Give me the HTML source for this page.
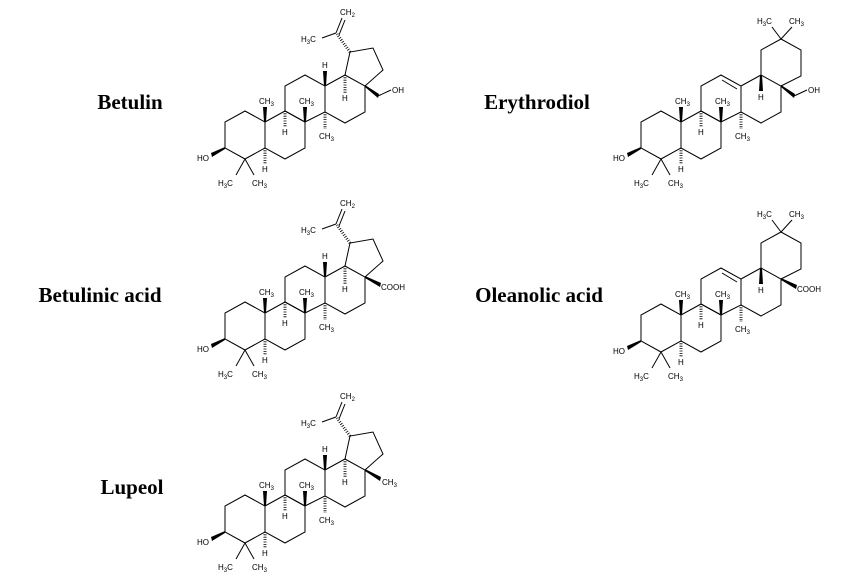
<!DOCTYPE html>
<html><head><meta charset="utf-8"><style>
html,body{margin:0;padding:0;background:#fff;}
svg{display:block;}
.n{font-family:"Liberation Serif",serif;font-weight:bold;font-size:21px;fill:#000;}
.l{font-family:"Liberation Sans",sans-serif;font-size:8px;fill:#000;}
.s{font-size:6px;}
.b{fill:none;stroke:#000;stroke-width:1;}
.h{stroke:#000;stroke-width:3;stroke-dasharray:0.8 1.6;}
.w{fill:#000;}
</style></head><body>
<svg width="865" height="579" viewBox="0 0 865 579" xmlns="http://www.w3.org/2000/svg">
<text class="n" x="130" y="109" text-anchor="middle">Betulin</text>
<text class="n" x="537" y="109" text-anchor="middle">Erythrodiol</text>
<text class="n" x="100" y="302" text-anchor="middle">Betulinic acid</text>
<text class="n" x="539" y="302" text-anchor="middle">Oleanolic acid</text>
<text class="n" x="132" y="494" text-anchor="middle">Lupeol</text>

<!-- Lupane: Betulin -->
<g transform="translate(0,0)">
<polygon class="b" points="245,111 265,122 265,148 245,159 225,148 225,122"/>
<polygon class="b" points="265,122 285,111 305,122 305,148 285,159 265,148"/>
<polygon class="b" points="285,111 285,86 305,75 325,86 325,112 305,122"/>
<polygon class="b" points="325,86 345,75 365,86 365,112 345,123 325,112"/>
<polyline class="b" points="345,75 350,52 373,48 383,70 365,86"/>
<line class="h" x1="350" y1="52" x2="337" y2="34"/>
<line class="b" x1="336" y1="33" x2="322" y2="38"/>
<line class="b" x1="336" y1="33" x2="342" y2="18"/>
<line class="b" x1="339" y1="35" x2="345" y2="20"/>
<text class="l" x="340" y="15">CH<tspan class="s" dy="2">2</tspan></text>
<text class="l" x="301" y="42">H<tspan class="s" dy="2">3</tspan><tspan dy="-2">C</tspan></text>
<polygon class="w" points="324,86 326,86 327,71 323,71"/>
<text class="l" x="322" y="68">H</text>
<line class="h" x1="345" y1="75" x2="345" y2="93"/>
<text class="l" x="342" y="101">H</text>
<polygon class="w" points="264,122 266,122 267,107 263,107"/>
<text class="l" x="259" y="104">CH<tspan class="s" dy="2">3</tspan></text>
<polygon class="w" points="304,122 306,122 307,107 303,107"/>
<text class="l" x="299" y="104">CH<tspan class="s" dy="2">3</tspan></text>
<line class="h" x1="285" y1="111" x2="285" y2="127"/>
<text class="l" x="282" y="135">H</text>
<line class="h" x1="325" y1="112" x2="325" y2="129"/>
<text class="l" x="319" y="139">CH<tspan class="s" dy="2">3</tspan></text>
<line class="h" x1="265" y1="148" x2="265" y2="164"/>
<text class="l" x="262" y="172">H</text>
<line class="b" x1="245" y1="159" x2="236" y2="175"/>
<line class="b" x1="245" y1="159" x2="254" y2="175"/>
<text class="l" x="218" y="186">H<tspan class="s" dy="2">3</tspan><tspan dy="-2">C</tspan></text>
<text class="l" x="252" y="186">CH<tspan class="s" dy="2">3</tspan></text>
<polygon class="w" points="225,147 225,149 212,157 211,153"/>
<text class="l" x="197" y="161">HO</text>
<polygon class="w" points="365,85 365,87 378,98 379,94"/>
<line class="b" x1="378" y1="96" x2="391" y2="90"/>
<text class="l" x="392" y="93">OH</text>
</g>

<!-- Betulinic acid -->
<g transform="translate(0,191)">
<polygon class="b" points="245,111 265,122 265,148 245,159 225,148 225,122"/>
<polygon class="b" points="265,122 285,111 305,122 305,148 285,159 265,148"/>
<polygon class="b" points="285,111 285,86 305,75 325,86 325,112 305,122"/>
<polygon class="b" points="325,86 345,75 365,86 365,112 345,123 325,112"/>
<polyline class="b" points="345,75 350,52 373,48 383,70 365,86"/>
<line class="h" x1="350" y1="52" x2="337" y2="34"/>
<line class="b" x1="336" y1="33" x2="322" y2="38"/>
<line class="b" x1="336" y1="33" x2="342" y2="18"/>
<line class="b" x1="339" y1="35" x2="345" y2="20"/>
<text class="l" x="340" y="15">CH<tspan class="s" dy="2">2</tspan></text>
<text class="l" x="301" y="42">H<tspan class="s" dy="2">3</tspan><tspan dy="-2">C</tspan></text>
<polygon class="w" points="324,86 326,86 327,71 323,71"/>
<text class="l" x="322" y="68">H</text>
<line class="h" x1="345" y1="75" x2="345" y2="93"/>
<text class="l" x="342" y="101">H</text>
<polygon class="w" points="264,122 266,122 267,107 263,107"/>
<text class="l" x="259" y="104">CH<tspan class="s" dy="2">3</tspan></text>
<polygon class="w" points="304,122 306,122 307,107 303,107"/>
<text class="l" x="299" y="104">CH<tspan class="s" dy="2">3</tspan></text>
<line class="h" x1="285" y1="111" x2="285" y2="127"/>
<text class="l" x="282" y="135">H</text>
<line class="h" x1="325" y1="112" x2="325" y2="129"/>
<text class="l" x="319" y="139">CH<tspan class="s" dy="2">3</tspan></text>
<line class="h" x1="265" y1="148" x2="265" y2="164"/>
<text class="l" x="262" y="172">H</text>
<line class="b" x1="245" y1="159" x2="236" y2="175"/>
<line class="b" x1="245" y1="159" x2="254" y2="175"/>
<text class="l" x="218" y="186">H<tspan class="s" dy="2">3</tspan><tspan dy="-2">C</tspan></text>
<text class="l" x="252" y="186">CH<tspan class="s" dy="2">3</tspan></text>
<polygon class="w" points="225,147 225,149 212,157 211,153"/>
<text class="l" x="197" y="161">HO</text>
<polygon class="w" points="365,85 365,87 380,96 381,92"/>
<text class="l" x="381" y="99">COOH</text>
</g>

<!-- Lupeol -->
<g transform="translate(0,384)">
<polygon class="b" points="245,111 265,122 265,148 245,159 225,148 225,122"/>
<polygon class="b" points="265,122 285,111 305,122 305,148 285,159 265,148"/>
<polygon class="b" points="285,111 285,86 305,75 325,86 325,112 305,122"/>
<polygon class="b" points="325,86 345,75 365,86 365,112 345,123 325,112"/>
<polyline class="b" points="345,75 350,52 373,48 383,70 365,86"/>
<line class="h" x1="350" y1="52" x2="337" y2="34"/>
<line class="b" x1="336" y1="33" x2="322" y2="38"/>
<line class="b" x1="336" y1="33" x2="342" y2="18"/>
<line class="b" x1="339" y1="35" x2="345" y2="20"/>
<text class="l" x="340" y="15">CH<tspan class="s" dy="2">2</tspan></text>
<text class="l" x="301" y="42">H<tspan class="s" dy="2">3</tspan><tspan dy="-2">C</tspan></text>
<polygon class="w" points="324,86 326,86 327,71 323,71"/>
<text class="l" x="322" y="68">H</text>
<line class="h" x1="345" y1="75" x2="345" y2="93"/>
<text class="l" x="342" y="101">H</text>
<polygon class="w" points="264,122 266,122 267,107 263,107"/>
<text class="l" x="259" y="104">CH<tspan class="s" dy="2">3</tspan></text>
<polygon class="w" points="304,122 306,122 307,107 303,107"/>
<text class="l" x="299" y="104">CH<tspan class="s" dy="2">3</tspan></text>
<line class="h" x1="285" y1="111" x2="285" y2="127"/>
<text class="l" x="282" y="135">H</text>
<line class="h" x1="325" y1="112" x2="325" y2="129"/>
<text class="l" x="319" y="139">CH<tspan class="s" dy="2">3</tspan></text>
<line class="h" x1="265" y1="148" x2="265" y2="164"/>
<text class="l" x="262" y="172">H</text>
<line class="b" x1="245" y1="159" x2="236" y2="175"/>
<line class="b" x1="245" y1="159" x2="254" y2="175"/>
<text class="l" x="218" y="186">H<tspan class="s" dy="2">3</tspan><tspan dy="-2">C</tspan></text>
<text class="l" x="252" y="186">CH<tspan class="s" dy="2">3</tspan></text>
<polygon class="w" points="225,147 225,149 212,157 211,153"/>
<text class="l" x="197" y="161">HO</text>
<polygon class="w" points="365,85 365,87 380,97 381,93"/>
<text class="l" x="382" y="101">CH<tspan class="s" dy="2">3</tspan></text>
</g>

<!-- Oleanane: Erythrodiol -->
<g transform="translate(0,0)">
<polygon class="b" points="661,111 681,122 681,148 661,159 641,148 641,122"/>
<polygon class="b" points="681,122 701,111 721,122 721,148 701,159 681,148"/>
<polygon class="b" points="701,111 701,86 721,75 741,86 741,112 721,122"/>
<line class="b" x1="722" y1="80" x2="737" y2="89"/>
<polygon class="b" points="741,86 761,75 781,86 781,112 761,123 741,112"/>
<polyline class="b" points="761,75 761,50 781,39 801,50 801,76 781,86"/>
<line class="b" x1="781" y1="39" x2="772" y2="27"/>
<line class="b" x1="781" y1="39" x2="792" y2="27"/>
<text class="l" x="757" y="24">H<tspan class="s" dy="2">3</tspan><tspan dy="-2">C</tspan></text>
<text class="l" x="789" y="24">CH<tspan class="s" dy="2">3</tspan></text>
<polygon class="w" points="760,75 762,75 763,91 759,91"/>
<text class="l" x="758" y="100">H</text>
<polygon class="w" points="680,122 682,122 683,107 679,107"/>
<text class="l" x="675" y="104">CH<tspan class="s" dy="2">3</tspan></text>
<polygon class="w" points="720,122 722,122 723,107 719,107"/>
<text class="l" x="715" y="104">CH<tspan class="s" dy="2">3</tspan></text>
<line class="h" x1="701" y1="111" x2="701" y2="127"/>
<text class="l" x="698" y="135">H</text>
<line class="h" x1="741" y1="112" x2="741" y2="129"/>
<text class="l" x="735" y="139">CH<tspan class="s" dy="2">3</tspan></text>
<line class="h" x1="681" y1="148" x2="681" y2="164"/>
<text class="l" x="678" y="172">H</text>
<line class="b" x1="661" y1="159" x2="652" y2="175"/>
<line class="b" x1="661" y1="159" x2="670" y2="175"/>
<text class="l" x="634" y="186">H<tspan class="s" dy="2">3</tspan><tspan dy="-2">C</tspan></text>
<text class="l" x="668" y="186">CH<tspan class="s" dy="2">3</tspan></text>
<polygon class="w" points="641,147 641,149 628,157 627,153"/>
<text class="l" x="613" y="161">HO</text>
<polygon class="w" points="781,85 781,87 794,98 795,94"/>
<line class="b" x1="794" y1="96" x2="807" y2="90"/>
<text class="l" x="808" y="93">OH</text>
</g>

<!-- Oleanolic acid -->
<g transform="translate(0,193)">
<polygon class="b" points="661,111 681,122 681,148 661,159 641,148 641,122"/>
<polygon class="b" points="681,122 701,111 721,122 721,148 701,159 681,148"/>
<polygon class="b" points="701,111 701,86 721,75 741,86 741,112 721,122"/>
<line class="b" x1="722" y1="80" x2="737" y2="89"/>
<polygon class="b" points="741,86 761,75 781,86 781,112 761,123 741,112"/>
<polyline class="b" points="761,75 761,50 781,39 801,50 801,76 781,86"/>
<line class="b" x1="781" y1="39" x2="772" y2="27"/>
<line class="b" x1="781" y1="39" x2="792" y2="27"/>
<text class="l" x="757" y="24">H<tspan class="s" dy="2">3</tspan><tspan dy="-2">C</tspan></text>
<text class="l" x="789" y="24">CH<tspan class="s" dy="2">3</tspan></text>
<polygon class="w" points="760,75 762,75 763,91 759,91"/>
<text class="l" x="758" y="100">H</text>
<polygon class="w" points="680,122 682,122 683,107 679,107"/>
<text class="l" x="675" y="104">CH<tspan class="s" dy="2">3</tspan></text>
<polygon class="w" points="720,122 722,122 723,107 719,107"/>
<text class="l" x="715" y="104">CH<tspan class="s" dy="2">3</tspan></text>
<line class="h" x1="701" y1="111" x2="701" y2="127"/>
<text class="l" x="698" y="135">H</text>
<line class="h" x1="741" y1="112" x2="741" y2="129"/>
<text class="l" x="735" y="139">CH<tspan class="s" dy="2">3</tspan></text>
<line class="h" x1="681" y1="148" x2="681" y2="164"/>
<text class="l" x="678" y="172">H</text>
<line class="b" x1="661" y1="159" x2="652" y2="175"/>
<line class="b" x1="661" y1="159" x2="670" y2="175"/>
<text class="l" x="634" y="186">H<tspan class="s" dy="2">3</tspan><tspan dy="-2">C</tspan></text>
<text class="l" x="668" y="186">CH<tspan class="s" dy="2">3</tspan></text>
<polygon class="w" points="641,147 641,149 628,157 627,153"/>
<text class="l" x="613" y="161">HO</text>
<polygon class="w" points="781,85 781,87 796,96 797,92"/>
<text class="l" x="797" y="99">COOH</text>
</g>
</svg>
</body></html>
